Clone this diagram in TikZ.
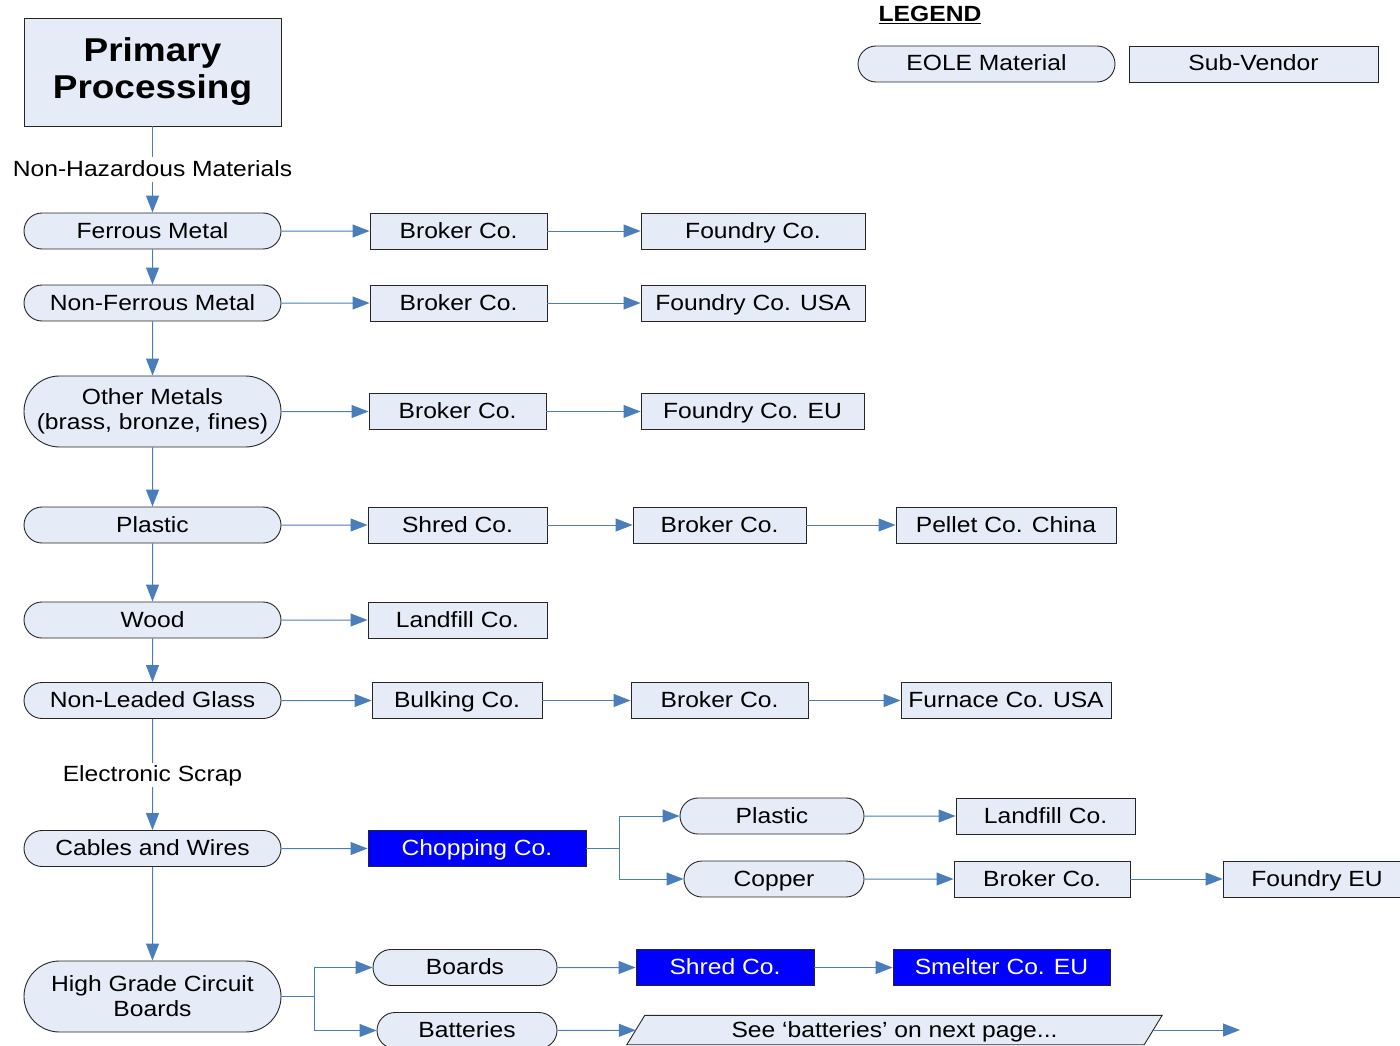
\documentclass[tikz,border=0pt]{standalone}
\usepackage{fontspec}
\setmainfont{Liberation Sans}[FakeStretch=1.12]
\usetikzlibrary{shapes.misc,arrows.meta,backgrounds}
\definecolor{nfill}{HTML}{E5ECF7}
\definecolor{lblue}{HTML}{4A7EBB}
\definecolor{hblue}{HTML}{0000FF}
\begin{document}
\begin{tikzpicture}[x=1pt,y=-1pt,
  font=\fontsize{22}{25}\selectfont,
  matbase/.style={rounded rectangle, draw=black!85, line width=0.9pt, fill=nfill,
    minimum height=36pt, inner sep=0pt, align=center},
  venbase/.style={rectangle, draw=black!85, line width=0.9pt, fill=nfill,
    minimum height=36pt, inner sep=0pt, align=center},
  oneline/.style={text height=17pt, text depth=3pt},
  mat/.style={matbase, oneline},
  ven/.style={venbase, oneline},
  hot/.style={ven, fill=hblue, text=white},
  arr/.style={draw=lblue, line width=1pt, -{Triangle[length=17pt,width=13pt]}},
  lbl/.style={fill=white, inner sep=2pt, oneline}]
\useasboundingbox (0,0) rectangle (1400,1046);

% legend
\node[oneline] (leg) at (930,15) {\bfseries\underline{LEGEND}};
\node[mat, minimum width=257pt] (legm) at (986.5,64) {EOLE Material};
\node[ven, minimum width=249pt] (legv) at (1253.5,64) {Sub-Vendor};

% main column
\node[venbase, minimum width=257pt, minimum height=108pt,
  font=\fontsize{33}{37}\selectfont\bfseries] (pp) at (152.5,72) {Primary\\Processing};
\node[mat, minimum width=257pt] (fer) at (152.5,231) {Ferrous Metal};
\node[mat, minimum width=257pt] (nfer) at (152.5,303) {Non-Ferrous Metal};
\node[matbase, minimum width=257pt, minimum height=71pt] (oth) at (152.5,411.5) {Other Metals\\(brass, bronze, fines)};
\node[mat, minimum width=257pt] (pla) at (152.5,525) {Plastic};
\node[mat, minimum width=257pt] (wood) at (152.5,620) {Wood};
\node[mat, minimum width=257pt] (gla) at (152.5,700.5) {Non-Leaded Glass};
\node[mat, minimum width=257pt] (cab) at (152.5,848.5) {Cables and Wires};
\node[matbase, minimum width=257pt, minimum height=71pt] (hg) at (152.5,996.5) {High Grade Circuit\\Boards};

\draw[arr] (pp) -- node[lbl] {Non-Hazardous Materials} (fer);
\draw[arr] (fer) -- (nfer);
\draw[arr] (nfer) -- (oth);
\draw[arr] (oth) -- (pla);
\draw[arr] (pla) -- (wood);
\draw[arr] (wood) -- (gla);
\draw[arr] (gla) -- node[lbl] {Electronic Scrap} (cab);
\draw[arr] (cab) -- (hg);

% row ferrous
\node[ven, minimum width=177pt] (bk1) at (458.5,231) {Broker Co.};
\node[ven, minimum width=224pt] (fd1) at (753,231) {Foundry Co.};
\draw[arr] (fer) -- (bk1);
\draw[arr] (bk1) -- (fd1);

% row non-ferrous
\node[ven, minimum width=177pt] (bk2) at (458.5,303) {Broker Co.};
\node[ven, minimum width=224pt] (fd2) at (753,303) {Foundry Co. USA};
\draw[arr] (nfer) -- (bk2);
\draw[arr] (bk2) -- (fd2);

% row other metals
\node[ven, minimum width=177pt] (bk3) at (457.5,411.5) {Broker Co.};
\node[ven, minimum width=223pt] (fd3) at (752.5,411.5) {Foundry Co. EU};
\draw[arr] (oth) -- (bk3);
\draw[arr] (bk3) -- (fd3);

% row plastic
\node[ven, minimum width=179pt] (sh1) at (457.5,525) {Shred Co.};
\node[ven, minimum width=173pt] (bk4) at (719.5,525) {Broker Co.};
\node[ven, minimum width=220pt] (pel) at (1006,525) {Pellet Co. China};
\draw[arr] (pla) -- (sh1);
\draw[arr] (sh1) -- (bk4);
\draw[arr] (bk4) -- (pel);

% row wood
\node[ven, minimum width=179pt] (lf1) at (457.5,620) {Landfill Co.};
\draw[arr] (wood) -- (lf1);

% row glass
\node[ven, minimum width=170pt] (bulk) at (457,700.5) {Bulking Co.};
\node[ven, minimum width=177pt] (bk5) at (719.5,700.5) {Broker Co.};
\node[ven, minimum width=210pt] (fur) at (1006,700.5) {Furnace Co. USA};
\draw[arr] (gla) -- (bulk);
\draw[arr] (bulk) -- (bk5);
\draw[arr] (bk5) -- (fur);

% row cables
\node[hot, minimum width=218pt] (chop) at (477,848.5) {Chopping Co.};
\node[mat, minimum width=184pt] (cpl) at (772,816) {Plastic};
\node[mat, minimum width=180pt] (ccu) at (774,879) {Copper};
\node[ven, minimum width=179pt] (lf2) at (1045.5,816) {Landfill Co.};
\node[ven, minimum width=176pt] (bk6) at (1042,879) {Broker Co.};
\node[ven, minimum width=188pt] (fdeu) at (1317,879) {Foundry EU};
\draw[arr] (cab) -- (chop);
\draw[arr] (chop.east) -- ++(33,0) |- (cpl);
\draw[arr] (chop.east) -- ++(33,0) |- (ccu);
\draw[arr] (cpl) -- (lf2);
\draw[arr] (ccu) -- (bk6);
\draw[arr] (bk6) -- (fdeu);

% row circuit boards
\node[mat, minimum width=184pt] (brd) at (465,967.5) {Boards};
\node[mat, minimum width=180pt] (bat) at (467,1030.5) {Batteries};
\node[hot, minimum width=178pt] (sh2) at (725,967.5) {Shred Co.};
\node[hot, minimum width=217pt] (smel) at (1001.5,967.5) {Smelter Co. EU};
\node[minimum width=517pt, minimum height=29pt, inner sep=0pt,
  oneline] (pg) at (894.5,1030) {See ‘batteries’ on next page...};
\begin{scope}[on background layer]
\draw[draw=black!85, line width=0.9pt, fill=nfill]
  ([xshift=-9pt]pg.south west) -- ([xshift=9pt]pg.north west) --
  ([xshift=9pt]pg.north east) -- ([xshift=-9pt]pg.south east) -- cycle;
\end{scope}
\coordinate (pgend) at (1240,1030);
\draw[arr] (hg.east) -- ++(33,0) |- (brd);
\draw[arr] (hg.east) -- ++(33,0) |- (bat);
\draw[arr] (brd) -- (sh2);
\draw[arr] (sh2) -- (smel);
\draw[arr] (bat) -- (pg);
\draw[arr] (pg) -- (pgend);
\end{tikzpicture}
\end{document}
